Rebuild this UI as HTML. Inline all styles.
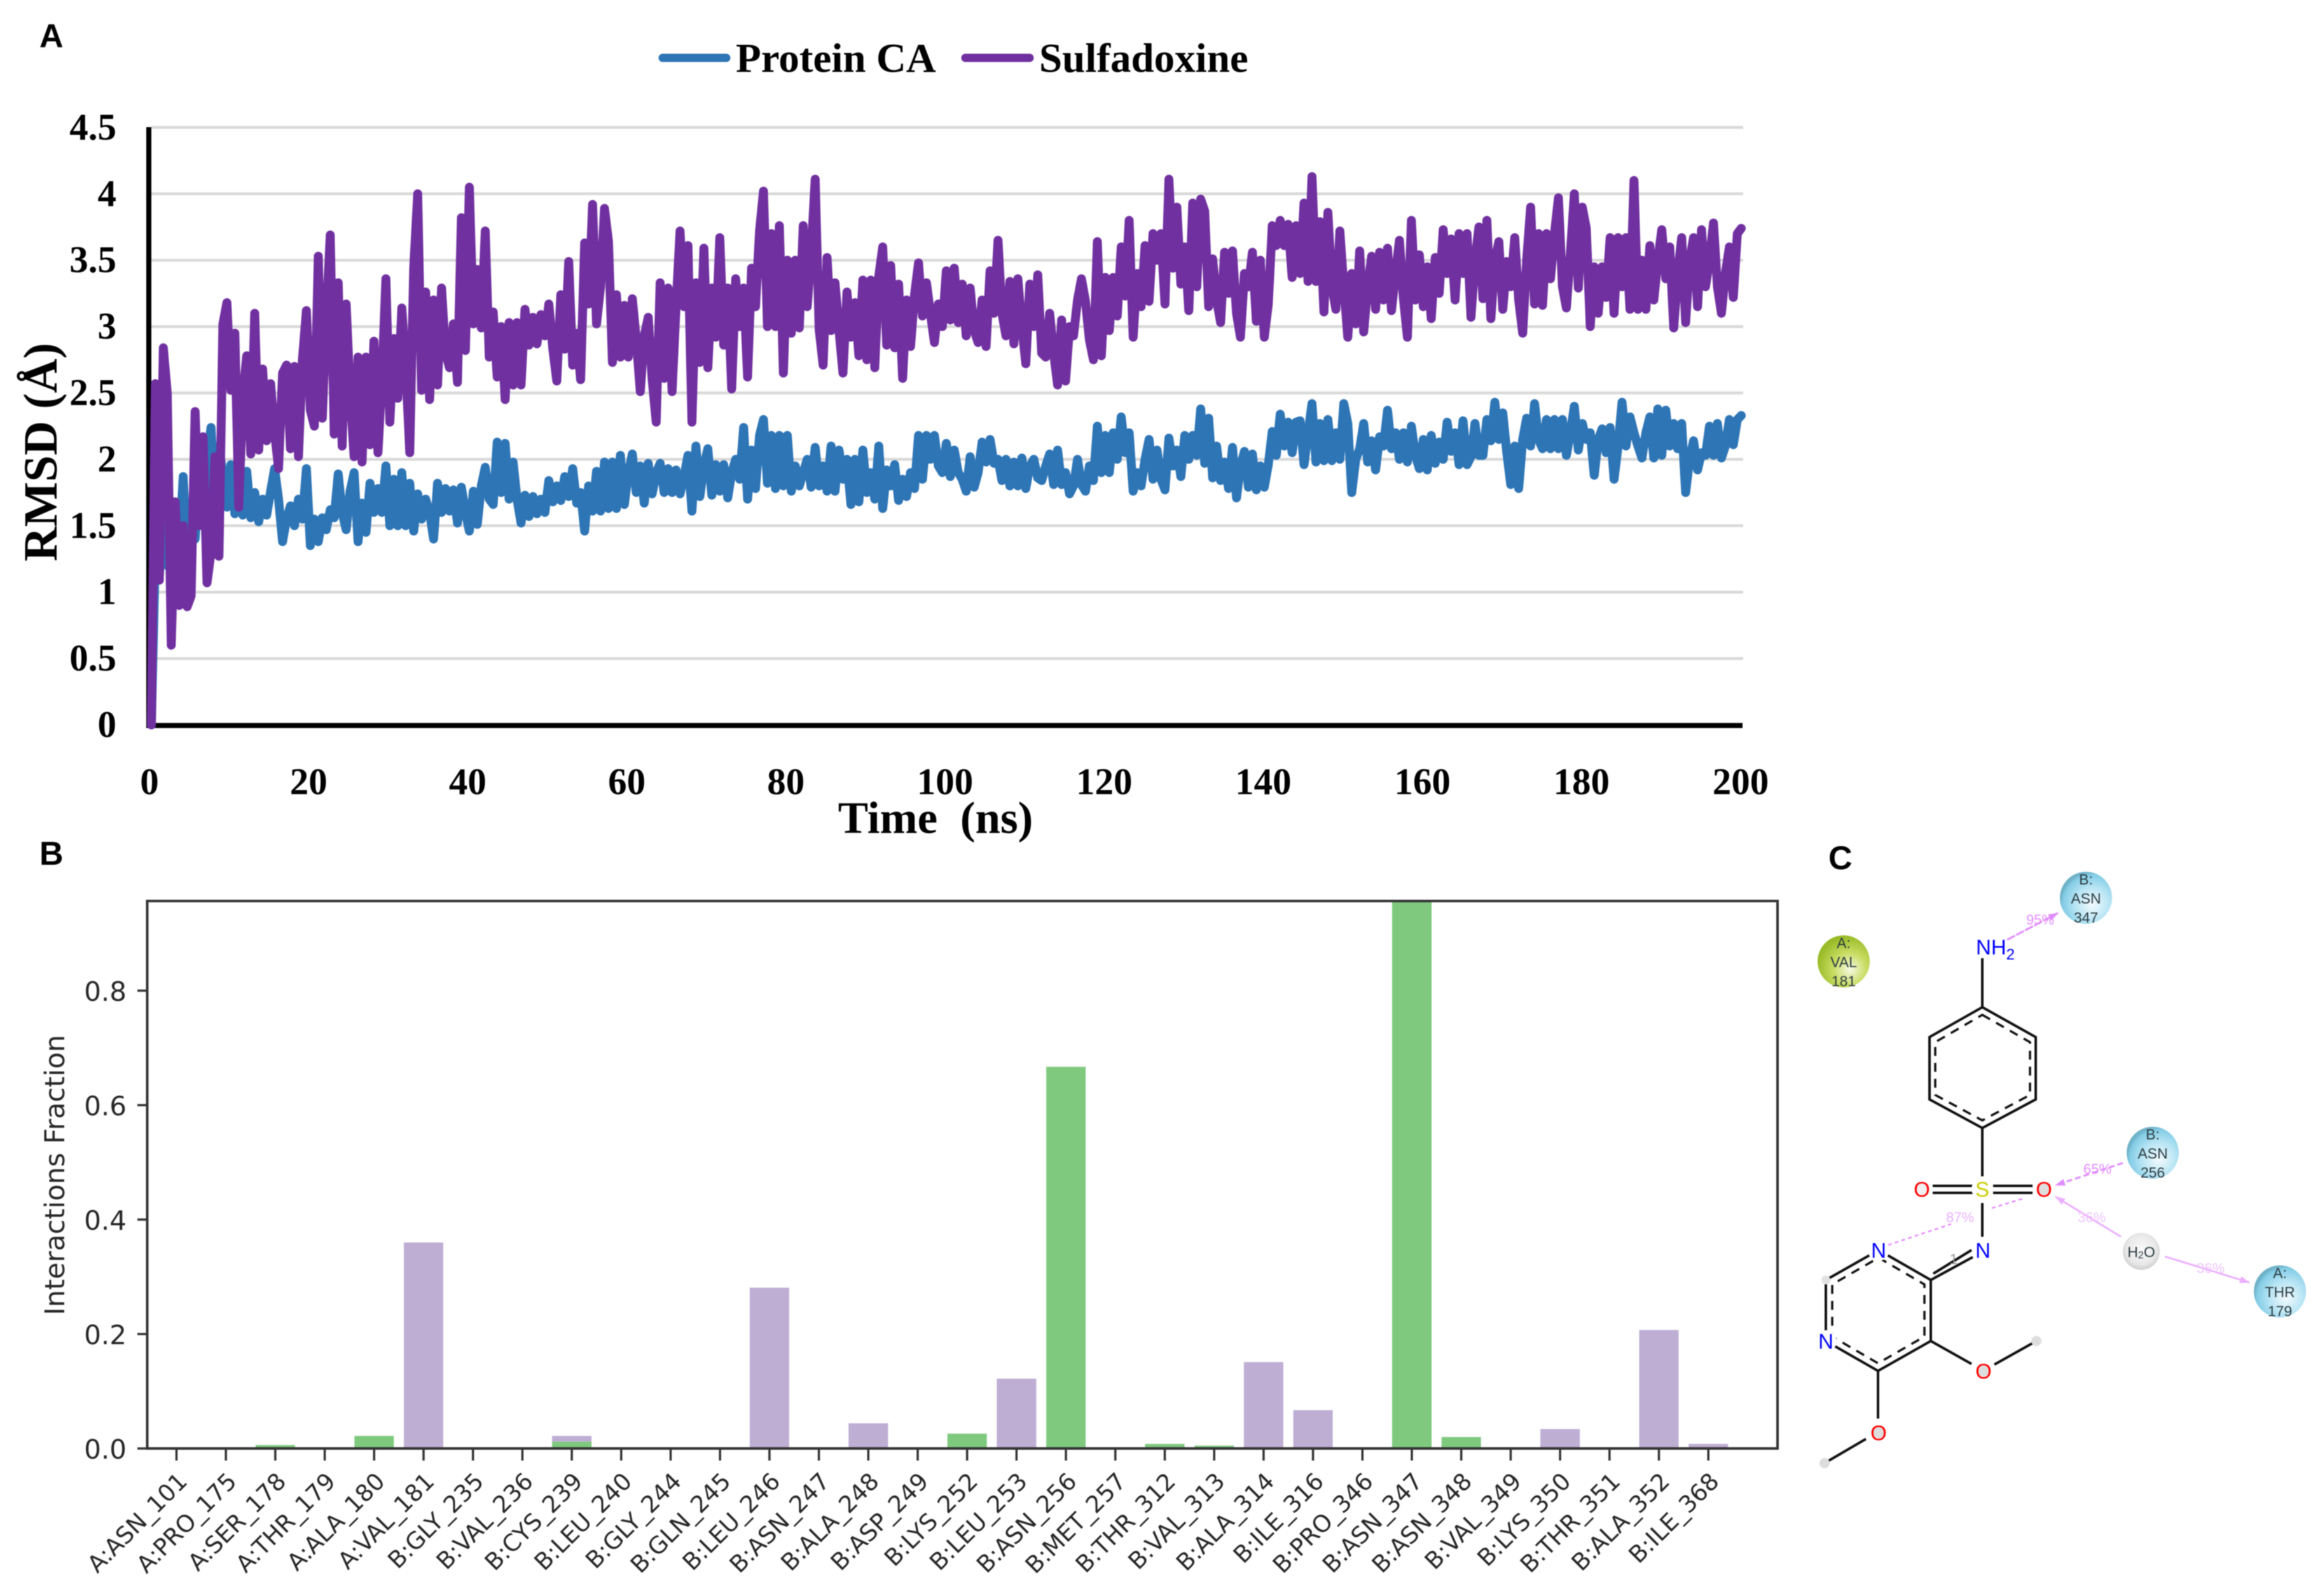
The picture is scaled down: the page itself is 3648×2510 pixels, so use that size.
<!DOCTYPE html>
<html lang="en">
<head>
<meta charset="utf-8">
<title>RMSD, protein-ligand contacts and interaction diagram</title>
<style>
  html, body { margin: 0; padding: 0; background: #fff; }
  body { width: 3648px; height: 2510px; overflow: hidden; }
  svg { display: block; filter: blur(0.7px); }
  .serif { font-family: "Liberation Serif", serif; font-weight: bold; fill: #000; }
  .panel { font-family: "Liberation Sans", sans-serif; font-weight: bold; font-size: 52px; fill: #000; }
  .mpl { font-family: "DejaVu Sans", sans-serif; fill: #262626; }
  .atom { font-family: "Liberation Sans", sans-serif; font-size: 33px; text-anchor: middle; }
  .res { font-family: "Liberation Sans", sans-serif; font-size: 23px; text-anchor: middle; fill: #2b3b40; }
  .pct { font-family: "Liberation Sans", sans-serif; font-size: 22px; text-anchor: middle; fill: #e58cff; }
  .bond { stroke: #111; stroke-width: 4; fill: none; }
  .arom { stroke: #111; stroke-width: 3.5; fill: none; stroke-dasharray: 14 11; }
</style>
</head>
<body>
<svg id="fig" xmlns="http://www.w3.org/2000/svg" width="3648" height="2510" viewBox="0 0 3648 2510">
  <defs>
    <clipPath id="barClip"><rect x="231" y="1417" width="2564" height="861"></rect></clipPath>
    <radialGradient id="gBlue" cx="62%" cy="62%" r="62%">
      <stop offset="0%" stop-color="#f4fbfe"></stop>
      <stop offset="55%" stop-color="#b4e3f3"></stop>
      <stop offset="90%" stop-color="#84cde6"></stop>
      <stop offset="100%" stop-color="#6fb2c8"></stop>
    </radialGradient>
    <radialGradient id="gGreen" cx="62%" cy="65%" r="64%">
      <stop offset="0%" stop-color="#f6f9e2"></stop>
      <stop offset="50%" stop-color="#c8dc62"></stop>
      <stop offset="100%" stop-color="#98ba26"></stop>
    </radialGradient>
    <radialGradient id="gGrey" cx="50%" cy="45%" r="58%">
      <stop offset="0%" stop-color="#fafafa"></stop>
      <stop offset="70%" stop-color="#e8e8e8"></stop>
      <stop offset="100%" stop-color="#c9c9c9"></stop>
    </radialGradient>
    <marker id="arrowA" markerUnits="userSpaceOnUse" markerWidth="16" markerHeight="11" refX="15" refY="5.5" orient="auto"><path d="M0,0 L16,5.5 L0,11 Z" fill="#e08cff"></path></marker>
    <marker id="arrowB" markerUnits="userSpaceOnUse" markerWidth="16" markerHeight="11" refX="15" refY="5.5" orient="auto"><path d="M0,0 L16,5.5 L0,11 Z" fill="#ebb0ff"></path></marker>
  </defs>

  <!-- Panel A -->
  <text class="panel" x="62" y="74">A</text>
  <g>
    <line x1="1042" y1="91" x2="1142" y2="91" stroke="#2E75B6" stroke-width="13" stroke-linecap="round"></line>
    <text class="serif" x="1157" y="113" font-size="65">Protein CA</text>
    <line x1="1518" y1="91" x2="1619" y2="91" stroke="#7030A0" stroke-width="13" stroke-linecap="round"></line>
    <text class="serif" x="1634" y="113" font-size="65">Sulfadoxine</text>
  </g>
  <g id="gridA"></g>
  <g id="ticksA"></g>
  <rect x="230" y="200" width="8" height="945" fill="#000"></rect>
  <rect x="230" y="1137" width="2510" height="8" fill="#000"></rect>
  <g id="seriesA"></g>
  <text class="serif" font-size="75" text-anchor="middle" transform="translate(89 711) rotate(-90)">RMSD (Å)</text>
  <text class="serif" x="1471" y="1310" font-size="71" text-anchor="middle" word-spacing="18">Time (ns)</text>

  <!-- Panel B -->
  <text class="panel" x="62" y="1360">B</text>
  <g id="barsB" clip-path="url(#barClip)"></g>
  <rect x="231.5" y="1417" width="2563.5" height="861" fill="none" stroke="#333" stroke-width="4"></rect>
  <g id="ticksB"></g>
  <text class="mpl" font-size="43" text-anchor="middle" transform="translate(101 1848) rotate(-90)">Interactions Fraction</text>

  <!-- Panel C -->
  <text class="panel" x="2875" y="1367">C</text>
  <g>
    <g>
      <line x1="3156" y1="1478" x2="3236" y2="1436" stroke="#e08cff" stroke-width="3" stroke-dasharray="14 2" marker-end="url(#arrowA)"></line>
      <line x1="3338" y1="1829" x2="3232" y2="1864" stroke="#e08cff" stroke-width="3" stroke-dasharray="9 5" marker-end="url(#arrowA)"></line>
      <line x1="3335" y1="1945" x2="3232" y2="1882" stroke="#ebb0ff" stroke-width="3" marker-end="url(#arrowB)"></line>
      <line x1="3404" y1="1976" x2="3537" y2="2017" stroke="#ebb0ff" stroke-width="3" marker-end="url(#arrowB)"></line>
      <line x1="2969" y1="1958" x2="3068" y2="1925" stroke="#e58cff" stroke-width="2.5" stroke-dasharray="6 5"></line>
      <line x1="3132" y1="1900" x2="3184" y2="1884" stroke="#e58cff" stroke-width="2.5" stroke-dasharray="6 5"></line>
    </g>
    <g>
      <line class="bond" x1="3117" y1="1507" x2="3117" y2="1584"></line>
      <polygon class="bond" points="3117,1584 3201,1631 3201,1729 3117,1774 3034,1729 3034,1631"></polygon>
      <polygon class="arom" points="3117,1596 3192,1639 3192,1722 3117,1762 3043,1722 3043,1639"></polygon>
      <line class="bond" x1="3117" y1="1774" x2="3117" y2="1850"></line>
      <line class="bond" x1="3039" y1="1865" x2="3102" y2="1865"></line>
      <line class="bond" x1="3039" y1="1876" x2="3102" y2="1876"></line>
      <line class="bond" x1="3134" y1="1865" x2="3196" y2="1865"></line>
      <line class="bond" x1="3134" y1="1876" x2="3196" y2="1876"></line>
      <line class="bond" x1="3117" y1="1892" x2="3117" y2="1945"></line>
      <line class="bond" x1="3036" y1="2013" x2="3102" y2="1977"></line>
      <line class="bond" x1="3040" y1="2003" x2="3100" y2="1966"></line>
      <polygon class="bond" points="2954,1966 3036,2013 3036,2109 2953,2156 2871,2109 2871,2013"></polygon>
      <polygon class="arom" points="2954,1978 3026,2020 3026,2102 2953,2144 2881,2102 2881,2020"></polygon>
      <line class="bond" x1="3036" y1="2109" x2="3100" y2="2145"></line>
      <line class="bond" x1="3136" y1="2146" x2="3202" y2="2109"></line>
      <line class="bond" x1="2953" y1="2156" x2="2953" y2="2231"></line>
      <line class="bond" x1="2934" y1="2263" x2="2869" y2="2301"></line>
    </g>
    <g fill="#fff">
      <circle cx="3117" cy="1490" r="17"></circle><circle cx="3117" cy="1870" r="17"></circle>
      <circle cx="3022" cy="1870" r="16"></circle><circle cx="3214" cy="1870" r="16"></circle>
      <circle cx="3118" cy="1966" r="17"></circle><circle cx="2954" cy="1966" r="17"></circle>
      <circle cx="2871" cy="2109" r="17"></circle><circle cx="3119" cy="2156" r="16"></circle>
      <circle cx="2954" cy="2253" r="16"></circle>
      <circle cx="3202" cy="2109" r="8" fill="#ddd"></circle><circle cx="2869" cy="2301" r="8" fill="#ddd"></circle>
      <circle cx="2871" cy="2013" r="7" fill="#e2e2e2"></circle>
      <circle cx="3214" cy="1870" r="9" fill="#ddd"></circle><circle cx="3119" cy="2156" r="9" fill="#ddd"></circle>
      <circle cx="2954" cy="2253" r="9" fill="#ddd"></circle><circle cx="3022" cy="1870" r="9" fill="#f0f0f0"></circle>
    </g>
    <g>
      <text class="atom" x="3107" y="1501" fill="#0000ff" style="text-anchor:start">NH<tspan font-size="24" dy="8">2</tspan></text>
      <text class="atom" x="3117" y="1882" fill="#cccc00">S</text>
      <text class="atom" x="3022" y="1882" fill="#ff0000">O</text>
      <text class="atom" x="3214" y="1882" fill="#ff0000">O</text>
      <text class="atom" x="3118" y="1978" fill="#0000ff">N</text>
      <text class="atom" x="2954" y="1978" fill="#0000ff">N</text>
      <text class="atom" x="2871" y="2121" fill="#0000ff">N</text>
      <text class="atom" x="3119" y="2168" fill="#ff0000">O</text>
      <text class="atom" x="2954" y="2265" fill="#ff0000">O</text>
      <text class="res" x="3072" y="1988" style="fill:#999">1</text>
    </g>
    <g>
      <circle cx="2899" cy="1512" r="41" fill="url(#gGreen)"></circle>
      <text class="res" x="2899" y="1491">A:</text><text class="res" x="2899" y="1521">VAL</text><text class="res" x="2899" y="1551">181</text>
    </g>
    <g>
      <circle cx="3280" cy="1412" r="41" fill="url(#gBlue)"></circle>
      <text class="res" x="3280" y="1391">B:</text><text class="res" x="3280" y="1421">ASN</text><text class="res" x="3280" y="1451">347</text>
    </g>
    <g>
      <circle cx="3385" cy="1813" r="41" fill="url(#gBlue)"></circle>
      <text class="res" x="3385" y="1792">B:</text><text class="res" x="3385" y="1822">ASN</text><text class="res" x="3385" y="1852">256</text>
    </g>
    <g>
      <circle cx="3585" cy="2031" r="41" fill="url(#gBlue)"></circle>
      <text class="res" x="3585" y="2010">A:</text><text class="res" x="3585" y="2040">THR</text><text class="res" x="3585" y="2070">179</text>
    </g>
    <g>
      <circle cx="3367" cy="1968" r="29" fill="url(#gGrey)"></circle>
      <text class="res" x="3367" y="1977">H<tspan font-size="16" dy="2">2</tspan><tspan dy="-2">O</tspan></text>
    </g>
    <text class="pct" x="3208" y="1454">95%</text>
    <text class="pct" x="3298" y="1846">65%</text>
    <text class="pct" x="3289" y="1922" style="fill:#efc4ff">36%</text>
    <text class="pct" x="3082" y="1922" style="fill:#ebb0ff">87%</text>
    <text class="pct" x="3476" y="2002" style="fill:#efc4ff">36%</text>
  </g>
</svg>

<script>
// ---- Panel A data (RMSD in angstrom, one sample every sampleStepNs) ----
const sampleStepNs = 0.5;
const rmsdTicks = ["0","0.5","1","1.5","2","2.5","3","3.5","4","4.5"];
const rmsdTickValues = [0,0.5,1,1.5,2,2.5,3,3.5,4,4.5];
const timeTicks = [0,20,40,60,80,100,120,140,160,180,200];
const proteinCA = [
0,1.3,1.12,1.5,1.2,1.4,1.2,1.3,1.87,1.3,1.6,1.4,1.85,1.5,2.0,2.24,1.7,2.1,1.88,1.64,1.96,
1.59,1.85,1.58,1.91,1.56,1.75,1.53,1.7,1.58,1.76,1.93,1.7,1.38,1.55,1.65,1.5,1.7,1.55,1.93,1.35,
1.55,1.38,1.56,1.47,1.62,1.56,1.89,1.6,1.47,1.76,1.9,1.38,1.67,1.45,1.82,1.6,1.78,1.6,1.95,1.5,
1.85,1.5,1.9,1.5,1.82,1.46,1.74,1.55,1.7,1.6,1.4,1.82,1.6,1.78,1.61,1.77,1.52,1.79,1.6,1.46,
1.76,1.51,1.8,1.94,1.7,1.66,2.13,1.75,2.12,1.7,1.98,1.7,1.52,1.73,1.57,1.72,1.59,1.7,1.6,1.84,
1.68,1.8,1.69,1.87,1.72,1.93,1.67,1.75,1.46,1.8,1.61,1.91,1.61,1.98,1.63,1.98,1.63,2.03,1.66,1.9,
2.04,1.75,1.95,1.67,1.97,1.74,1.9,1.97,1.75,1.93,1.75,1.92,1.74,1.87,2.03,1.61,2.1,1.72,1.95,2.08,
1.73,1.96,1.76,1.96,1.71,1.9,2.0,1.85,2.24,1.7,2.07,1.78,2.18,2.3,1.82,2.18,1.78,2.18,1.8,2.18,
1.76,1.95,1.8,1.9,2.0,1.79,2.09,1.8,1.95,1.76,2.1,1.76,2.07,1.85,2.0,1.66,2.0,1.68,2.07,1.75,
1.9,1.7,2.1,1.63,1.92,1.8,1.96,1.69,1.85,1.72,1.9,1.78,2.18,1.85,2.18,2.0,2.18,1.95,1.9,2.12,
1.87,2.07,1.9,1.85,1.76,2.02,1.79,1.9,2.13,1.98,2.15,1.97,2.0,1.84,2.0,1.8,1.98,1.8,2.01,1.78,
1.95,2.0,1.86,1.84,1.95,2.04,1.81,2.07,1.81,1.9,1.74,1.8,2.0,1.81,1.76,1.95,1.84,2.25,1.9,2.18,
1.9,2.2,2.0,2.32,2.05,2.2,1.76,1.9,1.8,2.0,2.15,1.85,2.07,1.85,1.77,2.16,1.95,2.07,1.87,2.18,
2.0,2.18,2.03,2.38,1.97,2.31,1.86,2.1,1.84,1.98,1.78,2.09,1.71,1.95,2.06,1.79,2.04,1.77,1.95,1.79,
1.96,2.21,2.03,2.34,2.1,2.28,2.05,2.28,2.29,1.96,2.2,2.42,1.98,2.27,1.99,2.3,1.99,2.2,2.0,2.42,
2.27,1.75,2.0,2.08,2.27,1.98,2.14,1.92,2.17,2.1,2.37,2.08,2.2,2.0,2.2,1.98,2.25,2.03,1.93,2.15,
1.92,2.18,1.97,2.13,2.0,2.28,2.06,2.2,1.96,2.29,1.96,2.02,2.27,2.03,2.03,2.3,2.14,2.43,2.15,2.35,
2.05,1.81,2.1,1.78,2.15,2.31,2.1,2.42,2.15,2.08,2.3,2.08,2.3,2.08,2.3,2.03,2.2,2.4,2.07,2.27,
2.15,2.2,1.88,2.15,2.23,2.05,2.24,1.85,2.1,2.43,2.1,2.32,2.2,2.1,2.01,2.2,2.32,2.01,2.38,2.03,
2.37,2.1,2.27,2.08,2.27,1.75,2.0,2.14,1.92,2.05,2.03,2.25,2.03,2.27,2.01,2.1,2.3,2.11,2.3,2.33
];
const sulfadoxine = [
0,2.57,1.09,2.84,2.5,0.6,1.68,0.9,1.5,0.89,0.97,2.36,1.5,2.17,1.07,1.3,2.02,1.27,3.02,3.18,2.52,
2.95,1.64,2.49,2.78,2.04,3.1,2.07,2.68,2.14,2.57,2.2,1.93,2.65,2.71,2.08,2.7,2.02,2.75,3.12,2.37,
2.25,3.53,2.31,3.07,3.69,2.19,3.33,2.1,3.17,2.5,2.02,2.77,1.98,2.77,2.11,2.89,2.05,2.6,3.36,2.28,
2.91,2.46,3.14,2.7,2.05,3.44,4.0,2.52,3.26,2.45,3.2,2.56,3.29,2.8,2.69,3.02,2.58,3.82,2.82,4.05,
3.02,3.43,2.99,3.72,2.77,3.11,2.62,3.0,2.45,3.03,2.56,3.03,2.56,3.13,2.86,3.07,2.87,3.09,2.93,3.17,
2.83,2.59,3.24,2.83,3.49,2.71,2.95,2.6,3.63,3.17,3.92,3.02,3.3,3.89,3.64,2.73,3.24,2.77,3.16,2.77,
3.21,2.9,2.51,2.93,3.07,2.6,2.28,3.33,2.61,3.29,2.51,3.15,3.72,3.15,3.61,2.28,3.33,2.73,3.59,2.69,
3.29,2.92,3.67,2.86,3.29,2.53,3.36,3.0,3.29,2.62,3.44,3.15,3.72,4.02,3.0,3.7,3.0,3.76,2.65,3.5,
2.95,3.5,2.99,3.76,3.15,3.56,4.11,2.98,2.71,3.52,2.97,3.33,2.97,2.65,3.26,2.92,3.18,2.78,3.35,2.75,
3.35,2.69,3.38,3.6,2.86,3.46,2.84,3.32,2.61,3.2,2.85,3.24,3.48,3.08,3.33,3.1,2.88,3.17,3.0,3.42,
3.05,3.44,3.03,3.32,2.93,3.29,2.97,2.88,3.2,2.85,3.42,3.1,3.65,3.1,2.93,3.34,2.87,3.36,3.0,2.72,
3.32,3.0,3.39,2.8,2.77,3.1,2.8,2.56,3.05,2.59,3.0,2.93,3.2,3.36,3.19,2.9,2.75,3.64,2.78,3.37,
2.97,3.37,3.08,3.6,3.23,3.8,2.92,3.4,3.15,3.61,3.19,3.7,3.5,3.7,3.17,4.11,3.44,3.9,3.32,3.6,
3.12,3.93,3.3,3.96,3.87,3.15,3.51,3.2,3.03,3.56,3.25,3.57,3.1,2.92,3.4,3.3,3.56,3.04,3.5,2.92,
3.17,3.76,3.61,3.8,3.61,3.77,3.37,3.76,3.4,3.93,3.34,4.13,3.34,3.79,3.11,3.86,3.3,3.13,3.72,3.3,
2.92,3.4,3.02,3.57,2.96,3.3,3.53,3.13,3.56,3.2,3.59,3.12,3.4,3.65,3.21,2.92,3.8,3.2,3.54,3.15,
3.45,3.06,3.52,3.25,3.73,3.4,3.66,3.2,3.7,3.4,3.7,3.07,3.5,3.75,3.21,3.8,3.06,3.5,3.64,3.13,
3.49,3.3,3.67,3.2,2.95,3.5,3.9,3.17,3.7,3.16,3.7,3.36,3.7,3.97,3.3,3.14,3.55,4.0,3.29,3.9,
3.74,3.0,3.45,3.1,3.45,3.22,3.67,3.1,3.67,3.3,3.67,3.13,4.1,3.13,3.5,3.13,3.61,3.2,3.5,3.73,
3.36,3.6,2.99,3.4,3.67,3.03,3.5,3.67,3.15,3.73,3.3,3.5,3.78,3.3,3.1,3.4,3.6,3.22,3.7,3.74
];

// ---- Panel B data (interaction fraction per residue) ----
const residues = ["A:ASN_101","A:PRO_175","A:SER_178","A:THR_179","A:ALA_180","A:VAL_181","B:GLY_235","B:VAL_236","B:CYS_239","B:LEU_240","B:GLY_244","B:GLN_245","B:LEU_246","B:ASN_247","B:ALA_248","B:ASP_249","B:LYS_252","B:LEU_253","B:ASN_256","B:MET_257","B:THR_312","B:VAL_313","B:ALA_314","B:ILE_316","B:PRO_346","B:ASN_347","B:ASN_348","B:VAL_349","B:LYS_350","B:THR_351","B:ALA_352","B:ILE_368"];
const hbondFraction = [0,0,0.006,0,0.022,0,0,0,0.012,0,0,0,0,0,0,0,0.026,0,0.667,0,0.008,0.005,0,0,0,0.98,0.02,0,0,0,0,0];
const hydrophobicFraction = [0,0,0,0,0,0.36,0,0,0.01,0,0,0,0.281,0,0.044,0,0,0.122,0,0,0,0,0.151,0.067,0,0,0,0,0.034,0,0.207,0.008];
const fractionTicks = ["0.0","0.2","0.4","0.6","0.8"];
const fractionTickValues = [0,0.2,0.4,0.6,0.8];

const SVG_NS = "http://www.w3.org/2000/svg";
function make(tag, attrs, parent, text) {
  const el = document.createElementNS(SVG_NS, tag);
  for (const k in attrs) el.setAttribute(k, attrs[k]);
  if (text !== undefined) el.textContent = text;
  parent.appendChild(el);
  return el;
}

// axis functions, panel A
function xLine(t) { return 238 + 12.5 * t; }
function xLabel(t) { return 235 + 12.51 * t; }
function yA(v) { return 1140 - 208.8 * v; }
// axis functions, panel B
function xB(i) { return 277.5 + 77.7 * i; }
function yB(v) { return 2278 - 900 * v; }

const gridA = document.getElementById("gridA");
const ticksA = document.getElementById("ticksA");
const seriesA = document.getElementById("seriesA");
const barsB = document.getElementById("barsB");
const ticksB = document.getElementById("ticksB");

rmsdTickValues.forEach(function (v, i) {
  if (v > 0) {
    const g = make("line", {x1: 238, x2: 2741, y1: yA(v), y2: yA(v), stroke: "#D9D9D9", "stroke-width": 4.5}, gridA);
    
    
  }
  const t = make("text", {x: 183, y: yA(v) + 19, "font-size": 59, "text-anchor": "end", "class": "serif"}, ticksA, rmsdTicks[i]);
  
  
});
timeTicks.forEach(function (v) {
  const t = make("text", {x: xLabel(v), y: 1249, "font-size": 59, "text-anchor": "middle", "class": "serif"}, ticksA, String(v));
  
  
});

function pathFor(values) {
  return values.map(function (v, i) {
    return xLine(i * sampleStepNs).toFixed(1) + "," + yA(v).toFixed(1);
  }).join(" ");
}
const lineCA = make("polyline", {points: pathFor(proteinCA), fill: "none", stroke: "#2E75B6", "stroke-width": 14, "stroke-linejoin": "round", "stroke-linecap": "round"}, seriesA);


const lineSulf = make("polyline", {points: pathFor(sulfadoxine), fill: "none", stroke: "#7030A0", "stroke-width": 14, "stroke-linejoin": "round", "stroke-linecap": "round"}, seriesA);



const barWidth = 62;
residues.forEach(function (name, i) {
  const cx = xB(i);
  const h1 = hbondFraction[i], h2 = hydrophobicFraction[i];
  if (h1 > 0) {
    const b = make("rect", {x: cx - barWidth / 2, y: yB(h1), width: barWidth, height: yB(0) - yB(h1), fill: "#7FC97F"}, barsB);
    
    
  }
  if (h2 > 0) {
    const b = make("rect", {x: cx - barWidth / 2, y: yB(h1 + h2), width: barWidth, height: yB(h1) - yB(h1 + h2), fill: "#BEAED4"}, barsB);
    
    
  }
  const tick = make("line", {x1: cx, x2: cx, y1: 2278, y2: 2297, stroke: "#333", "stroke-width": 3.5}, ticksB);
  
  
  const ax = cx + 19, ay = 2332;
  const label = make("text", {"font-size": 37, "text-anchor": "end", "class": "mpl", transform: "translate(" + ax + " " + ay + ") rotate(-45)"}, ticksB, name);
  
  
});
fractionTickValues.forEach(function (v, i) {
  const tick = make("line", {x1: 216, x2: 231, y1: yB(v), y2: yB(v), stroke: "#333", "stroke-width": 3.5}, ticksB);
  
  
  const t = make("text", {x: 199, y: yB(v) + 16, "font-size": 42, "text-anchor": "end", "class": "mpl"}, ticksB, fractionTicks[i]);
  
  
});
</script>
</body>
</html>
